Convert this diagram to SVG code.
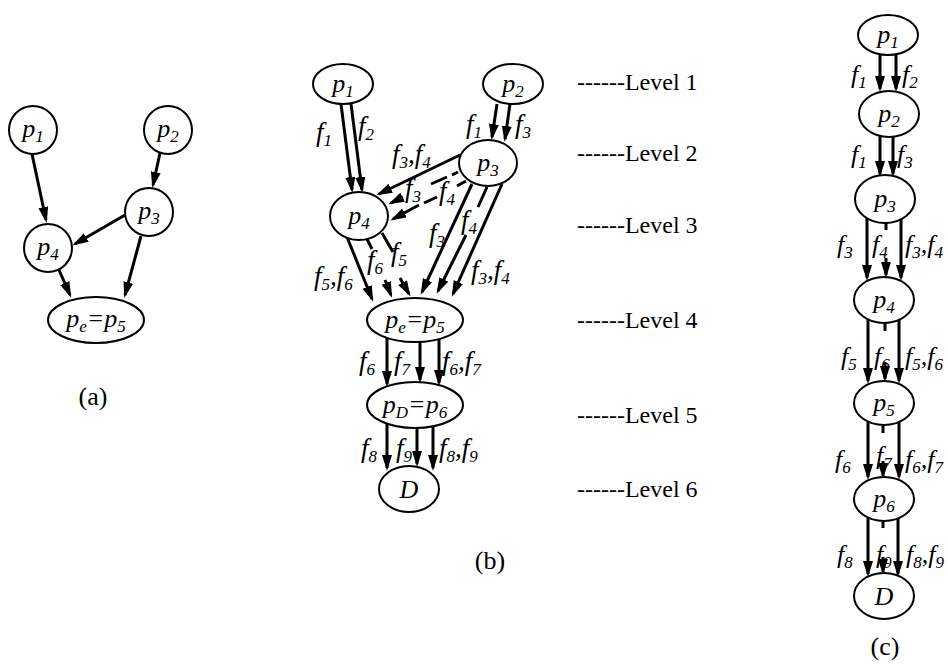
<svg xmlns="http://www.w3.org/2000/svg" width="948" height="666" viewBox="0 0 948 666">
  <defs>
    <marker id="ah" markerUnits="userSpaceOnUse" markerWidth="18" markerHeight="12" refX="13" refY="5" orient="auto">
      <path d="M0,0 L16,5 L0,10 z" fill="#000"/>
    </marker>
    <style>
      .n { fill: #fff; stroke: #000; stroke-width: 2; }
      .e { fill: none; stroke: #000; stroke-width: 3; marker-end: url(#ah); }
      .t { font-family: "Liberation Serif", "Times New Roman", serif; font-style: italic; font-size: 26px; fill: #000; }
      .f { font-family: "Liberation Serif", "Times New Roman", serif; font-style: italic; font-size: 27px; fill: #000; }
      .tc { font-family: "Liberation Serif", "Times New Roman", serif; font-style: italic; font-size: 26px; fill: #000; }
      .s { font-size: 17px; }
      .lv { font-family: "Liberation Serif", "Times New Roman", serif; font-size: 24px; fill: #000; }
      .cap { font-family: "Liberation Serif", "Times New Roman", serif; font-size: 26px; fill: #000; text-anchor: middle; }
      .m { text-anchor: middle; }
    </style>
  </defs>
  <rect width="948" height="666" fill="#fff"/>

  <!-- ===== (a) ===== -->
  <g id="a-edges">
    <line class="e" x1="32" y1="154" x2="46" y2="220"/>
    <line class="e" x1="160" y1="153" x2="153" y2="185"/>
    <line class="e" x1="125" y1="215" x2="75" y2="244"/>
    <line class="e" x1="141" y1="236" x2="125" y2="295"/>
    <line class="e" x1="59" y1="270" x2="70" y2="295"/>
  </g>
  <g id="a-p1"><circle class="n" cx="33" cy="130" r="24"/><text class="t m" x="33" y="137">p<tspan class="s" dy="5">1</tspan></text></g>
  <g id="a-p2"><circle class="n" cx="168" cy="130" r="24"/><text class="t m" x="168" y="137">p<tspan class="s" dy="5">2</tspan></text></g>
  <g id="a-p3"><circle class="n" cx="149" cy="212" r="24"/><text class="t m" x="149" y="219">p<tspan class="s" dy="5">3</tspan></text></g>
  <g id="a-p4"><circle class="n" cx="48" cy="248" r="24"/><text class="t m" x="48" y="255">p<tspan class="s" dy="5">4</tspan></text></g>
  <g id="a-p5"><ellipse class="n" cx="96" cy="320" rx="48" ry="23"/><text class="t m" x="96" y="327">p<tspan class="s" dy="5">e</tspan><tspan dy="-5">=p</tspan><tspan class="s" dy="5">5</tspan></text></g>
  <text class="cap" x="93" y="405">(a)</text>

  <!-- ===== (b) ===== -->
  <g id="b-edges">
    <!-- p1 -> p4 -->
    <line class="e" x1="341" y1="104" x2="352" y2="190"/>
    <line class="e" x1="351" y1="104" x2="362" y2="190"/>
    <!-- p2 -> p3 -->
    <line class="e" x1="497" y1="104" x2="492" y2="137"/>
    <line class="e" x1="510" y1="104" x2="505" y2="139"/>
    <!-- p3 -> p4 -->
    <line class="e" x1="460" y1="155" x2="379" y2="194"/>
    <path class="e" d="M458,172 L452,175 M447,177 L431,184 M403,197 L391,203"/>
    <path class="e" d="M466,181 L457,186 M437,197 L424,203 M419,205 L393,219"/>
    <!-- p3 -> pe -->
    <line class="e" x1="472" y1="184" x2="422" y2="292"/>
    <path class="e" d="M487,187 L478,207 M466,235 L438,291"/>
    <line class="e" x1="502" y1="184" x2="453" y2="294"/>
    <!-- p4 -> pe -->
    <line class="e" x1="347" y1="237" x2="372" y2="299"/>
    <path class="e" d="M367,239 L372,249 M385,280 L391,295"/>
    <path class="e" d="M382,233 L393,252 M400,278 L409,294"/>
    <!-- pe -> pD -->
    <line class="e" x1="387" y1="338" x2="387" y2="384"/>
    <line class="e" x1="420" y1="342" x2="420" y2="380"/>
    <line class="e" x1="439" y1="339" x2="439" y2="383"/>
    <!-- pD -> D -->
    <line class="e" x1="387" y1="424" x2="387" y2="468"/>
    <line class="e" x1="417" y1="428" x2="417" y2="464"/>
    <line class="e" x1="433" y1="426" x2="433" y2="468"/>
  </g>
  <g id="b-p1"><ellipse class="n" cx="343" cy="84" rx="30" ry="20"/><text class="t m" x="343" y="92">p<tspan class="s" dy="5">1</tspan></text></g>
  <g id="b-p2"><ellipse class="n" cx="513" cy="84" rx="30" ry="20"/><text class="t m" x="513" y="92">p<tspan class="s" dy="5">2</tspan></text></g>
  <g id="b-p3"><ellipse class="n" cx="488" cy="163" rx="29" ry="23"/><text class="t m" x="488" y="171">p<tspan class="s" dy="5">3</tspan></text></g>
  <g id="b-p4"><ellipse class="n" cx="359" cy="216" rx="29" ry="24"/><text class="t m" x="359" y="224">p<tspan class="s" dy="5">4</tspan></text></g>
  <g id="b-p5"><ellipse class="n" cx="415" cy="320" rx="48" ry="22"/><text class="t m" x="415" y="328">p<tspan class="s" dy="5">e</tspan><tspan dy="-5">=p</tspan><tspan class="s" dy="5">5</tspan></text></g>
  <g id="b-p6"><ellipse class="n" cx="415" cy="405" rx="48" ry="23"/><text class="t m" x="415" y="413">p<tspan class="s" dy="5">D</tspan><tspan dy="-5">=p</tspan><tspan class="s" dy="5">6</tspan></text></g>
  <g id="b-D"><ellipse class="n" cx="409" cy="489" rx="30" ry="23"/><text class="t m" x="409" y="498">D</text></g>

  <g id="b-labels">
    <text class="f" x="316" y="141">f<tspan class="s" dy="5">1</tspan></text>
    <text class="f" x="358" y="135">f<tspan class="s" dy="5">2</tspan></text>
    <text class="f" x="466" y="133">f<tspan class="s" dy="5">1</tspan></text>
    <text class="f" x="515" y="133">f<tspan class="s" dy="5">3</tspan></text>
    <text class="f" x="392" y="163">f<tspan class="s" dy="5">3</tspan><tspan dy="-5">,f</tspan><tspan class="s" dy="5">4</tspan></text>
    <text class="f" x="405" y="197">f<tspan class="s" dy="5">3</tspan></text>
    <text class="f" x="439" y="200">f<tspan class="s" dy="5">4</tspan></text>
    <text class="f" x="429" y="242">f<tspan class="s" dy="5">3</tspan></text>
    <text class="f" x="461" y="229">f<tspan class="s" dy="5">4</tspan></text>
    <text class="f" x="471" y="279">f<tspan class="s" dy="5">3</tspan><tspan dy="-5">,f</tspan><tspan class="s" dy="5">4</tspan></text>
    <text class="f" x="314" y="285">f<tspan class="s" dy="5">5</tspan><tspan dy="-5">,f</tspan><tspan class="s" dy="5">6</tspan></text>
    <text class="f" x="367" y="269">f<tspan class="s" dy="5">6</tspan></text>
    <text class="f" x="391" y="261">f<tspan class="s" dy="5">5</tspan></text>
    <text class="f" x="359" y="370">f<tspan class="s" dy="5">6</tspan></text>
    <text class="f" x="394" y="370">f<tspan class="s" dy="5">7</tspan></text>
    <text class="f" x="442" y="370">f<tspan class="s" dy="5">6</tspan><tspan dy="-5">,f</tspan><tspan class="s" dy="5">7</tspan></text>
    <text class="f" x="361" y="457">f<tspan class="s" dy="5">8</tspan></text>
    <text class="f" x="396" y="457">f<tspan class="s" dy="5">9</tspan></text>
    <text class="f" x="439" y="457">f<tspan class="s" dy="5">8</tspan><tspan dy="-5">,f</tspan><tspan class="s" dy="5">9</tspan></text>
  </g>

  <g id="levels">
    <text class="lv" x="577" y="90">------Level 1</text>
    <text class="lv" x="577" y="161">------Level 2</text>
    <text class="lv" x="577" y="233">------Level 3</text>
    <text class="lv" x="577" y="328">------Level 4</text>
    <text class="lv" x="577" y="423">------Level 5</text>
    <text class="lv" x="577" y="497">------Level 6</text>
  </g>
  <text class="cap" x="490" y="569">(b)</text>

  <!-- ===== (c) ===== -->
  <g id="c-edges">
    <line class="e" x1="880" y1="54" x2="880" y2="89"/>
    <line class="e" x1="896" y1="54" x2="896" y2="89"/>
    <line class="e" x1="880" y1="136" x2="880" y2="174"/>
    <line class="e" x1="893" y1="136" x2="893" y2="174"/>

    <line class="e" x1="867" y1="218" x2="867" y2="278"/>
    <path class="e" d="M886,222 L886,230 M886,258 L886,275"/>
    <line class="e" x1="901" y1="219" x2="901" y2="278"/>

    <line class="e" x1="868" y1="319" x2="868" y2="381"/>
    <path class="e" d="M885,323 L885,331 M885,362 L885,379"/>
    <line class="e" x1="899" y1="319" x2="899" y2="381"/>

    <line class="e" x1="868" y1="422" x2="868" y2="477"/>
    <path class="e" d="M883,425 L883,433 M883,461 L883,476"/>
    <line class="e" x1="899" y1="422" x2="899" y2="477"/>

    <line class="e" x1="868" y1="518" x2="868" y2="574"/>
    <path class="e" d="M883,521 L883,528 M883,557 L883,572"/>
    <line class="e" x1="898" y1="518" x2="898" y2="574"/>
  </g>
  <g id="c-p1"><ellipse class="n" cx="888" cy="35" rx="30" ry="20"/><text class="t m" x="888" y="43">p<tspan class="s" dy="5">1</tspan></text></g>
  <g id="c-p2"><ellipse class="n" cx="889" cy="114" rx="30" ry="23"/><text class="t m" x="889" y="122">p<tspan class="s" dy="5">2</tspan></text></g>
  <g id="c-p3"><ellipse class="n" cx="885" cy="199" rx="30" ry="24"/><text class="t m" x="885" y="207">p<tspan class="s" dy="5">3</tspan></text></g>
  <g id="c-p4"><ellipse class="n" cx="884" cy="300" rx="30" ry="23"/><text class="t m" x="884" y="308">p<tspan class="s" dy="5">4</tspan></text></g>
  <g id="c-p5"><ellipse class="n" cx="884" cy="403" rx="30" ry="22"/><text class="t m" x="884" y="411">p<tspan class="s" dy="5">5</tspan></text></g>
  <g id="c-p6"><ellipse class="n" cx="884" cy="499" rx="30" ry="22"/><text class="t m" x="884" y="507">p<tspan class="s" dy="5">6</tspan></text></g>
  <g id="c-D"><ellipse class="n" cx="884" cy="596" rx="30" ry="23"/><text class="t m" x="884" y="605">D</text></g>

  <g id="c-labels">
    <text class="tc" x="851" y="83">f<tspan class="s" dy="5">1</tspan></text>
    <text class="tc" x="902" y="83">f<tspan class="s" dy="5">2</tspan></text>
    <text class="tc" x="851" y="163">f<tspan class="s" dy="5">1</tspan></text>
    <text class="tc" x="897" y="163">f<tspan class="s" dy="5">3</tspan></text>
    <text class="tc" x="837" y="253">f<tspan class="s" dy="5">3</tspan></text>
    <text class="tc" x="872" y="253">f<tspan class="s" dy="5">4</tspan></text>
    <text class="tc" x="905" y="253">f<tspan class="s" dy="5">3</tspan><tspan dy="-5">,f</tspan><tspan class="s" dy="5">4</tspan></text>
    <text class="tc" x="841" y="365">f<tspan class="s" dy="5">5</tspan></text>
    <text class="tc" x="874" y="365">f<tspan class="s" dy="5">6</tspan></text>
    <text class="tc" x="905" y="365">f<tspan class="s" dy="5">5</tspan><tspan dy="-5">,f</tspan><tspan class="s" dy="5">6</tspan></text>
    <text class="tc" x="835" y="468">f<tspan class="s" dy="5">6</tspan></text>
    <text class="tc" x="876" y="464">f<tspan class="s" dy="5">7</tspan></text>
    <text class="tc" x="905" y="468">f<tspan class="s" dy="5">6</tspan><tspan dy="-5">,f</tspan><tspan class="s" dy="5">7</tspan></text>
    <text class="tc" x="837" y="563">f<tspan class="s" dy="5">8</tspan></text>
    <text class="tc" x="876" y="563">f<tspan class="s" dy="5">9</tspan></text>
    <text class="tc" x="906" y="563">f<tspan class="s" dy="5">8</tspan><tspan dy="-5">,f</tspan><tspan class="s" dy="5">9</tspan></text>
  </g>
  <text class="cap" x="885" y="655">(c)</text>
</svg>
